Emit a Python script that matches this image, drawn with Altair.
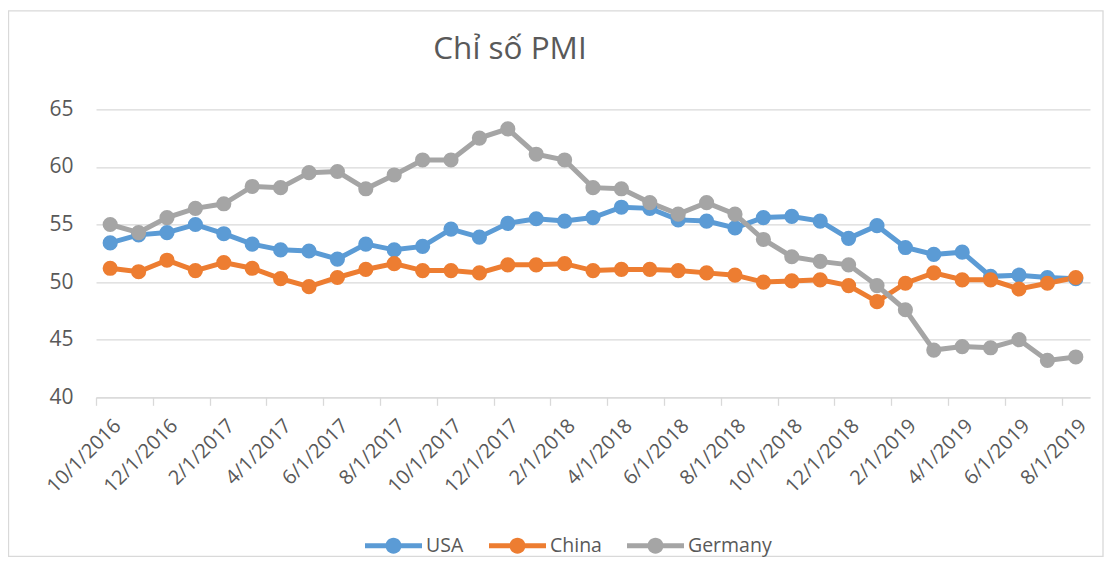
import altair as alt
import pandas as pd

dates = [
    "10/1/2016", "11/1/2016", "12/1/2016", "1/1/2017", "2/1/2017", "3/1/2017",
    "4/1/2017", "5/1/2017", "6/1/2017", "7/1/2017", "8/1/2017", "9/1/2017",
    "10/1/2017", "11/1/2017", "12/1/2017", "1/1/2018", "2/1/2018", "3/1/2018",
    "4/1/2018", "5/1/2018", "6/1/2018", "7/1/2018", "8/1/2018", "9/1/2018",
    "10/1/2018", "11/1/2018", "12/1/2018", "1/1/2019", "2/1/2019", "3/1/2019",
    "4/1/2019", "5/1/2019", "6/1/2019", "7/1/2019", "8/1/2019",
]
usa = [53.4, 54.1, 54.3, 55.0, 54.2, 53.3, 52.8, 52.7, 52.0, 53.3,
       52.8, 53.1, 54.6, 53.9, 55.1, 55.5, 55.3, 55.6, 56.5, 56.4,
       55.4, 55.3, 54.7, 55.6, 55.7, 55.3, 53.8, 54.9, 53.0, 52.4,
       52.6, 50.5, 50.6, 50.4, 50.3]
china = [51.2, 50.9, 51.9, 51.0, 51.7, 51.2, 50.3, 49.6, 50.4, 51.1,
         51.6, 51.0, 51.0, 50.8, 51.5, 51.5, 51.6, 51.0, 51.1, 51.1,
         51.0, 50.8, 50.6, 50.0, 50.1, 50.2, 49.7, 48.3, 49.9, 50.8,
         50.2, 50.2, 49.4, 49.9, 50.4]
germany = [55.0, 54.3, 55.6, 56.4, 56.8, 58.3, 58.2, 59.5, 59.6, 58.1,
           59.3, 60.6, 60.6, 62.5, 63.3, 61.1, 60.6, 58.2, 58.1, 56.9,
           55.9, 56.9, 55.9, 53.7, 52.2, 51.8, 51.5, 49.7, 47.6, 44.1,
           44.4, 44.3, 45.0, 43.2, 43.5]
series_names = ["USA", "China", "Germany"]
series_colors = ["#5B9BD5", "#ED7D31", "#A5A5A5"]
y_ticks = [40, 45, 50, 55, 60, 65]
title_text = "Chỉ số PMI"

FONT = "Open Sans"
TXT = "#595959"
GRID = "#d9d9d9"

rows = []
for s, (name, vals) in enumerate(zip(series_names, [usa, china, germany])):
    for i, (d, v) in enumerate(zip(dates, vals)):
        rows.append({"idx": i, "date": d, "series": name, "s": s, "value": v})
df = pd.DataFrame(rows)

n = len(dates)
label_js = "[" + ",".join("'" + d + "'" for d in dates) + "]"
x_vals = []
for i in range(0, n, 2):
    x_vals += [i - 0.5, i]

W, H = 994, 288

x_enc = alt.X(
    "idx:Q",
    scale=alt.Scale(domain=[-0.5, n - 0.5], nice=False, zero=False),
    axis=alt.Axis(
        values=x_vals, title=None, grid=False,
        labelExpr="datum.value % 2 === 0 ? " + label_js + "[datum.value] : ''",
        labelAngle=-45, labelAlign="right", labelBaseline="top",
        labelOverlap=False, labelFlush=False, labelPadding=10,
        labelFont=FONT, labelFontSize=20, labelColor=TXT,
        tickSize=8, tickColor=GRID, tickWidth=1.3,
        tickOpacity={"condition": {"test": "datum.value % 1 === 0", "value": 0}, "value": 1},
        domainColor=GRID, domainWidth=1.3,
    ),
)
y_enc = alt.Y(
    "value:Q",
    scale=alt.Scale(domain=[40, 65], nice=False, zero=False),
    axis=alt.Axis(
        values=y_ticks, title=None, domain=False, ticks=False,
        grid=True, gridColor=GRID, gridWidth=1.3,
        labelPadding=23, labelFont=FONT, labelFontSize=21, labelColor=TXT,
    ),
)
# line segment plus filled marker, both wound the same way so they union
sym = ("M-1,-0.09H1V0.09H-1Z "
       "M-0.28,0A0.28,0.28,0,1,1,0.28,0A0.28,0.28,0,1,1,-0.28,0Z")
color_scale = alt.Scale(domain=series_names, range=series_colors)
legend = alt.Legend(
    title=None, orient="none", legendX=269, legendY=408,
    direction="horizontal", symbolType=sym, symbolSize=3249,
    symbolStrokeWidth=0, symbolOpacity=1,
    labelFont=FONT, labelFontSize=19.5, labelColor=TXT,
    labelOffset=4, columnPadding=25, padding=0,
)

base = alt.Chart(df)
lines = base.mark_line(strokeWidth=5).encode(
    x=x_enc, y=y_enc,
    color=alt.Color("series:N", scale=color_scale, legend=legend),
    order="idx:Q",
)
points = base.mark_circle(size=230, opacity=1).encode(
    x=x_enc, y=y_enc,
    color=alt.Color("series:N", scale=color_scale, legend=legend),
)
one = alt.Data(values=[{"k": 1}])
frame = alt.Chart(one).mark_rect(fill="transparent", stroke=GRID, strokeWidth=1.3).encode(
    x=alt.value(-87.5), x2=alt.value(1007), y=alt.value(-98.5), y2=alt.value(447)
)
title = alt.Chart(one).mark_text(
    text=title_text, font=FONT, fontSize=31.5, color=TXT,
    align="center", baseline="alphabetic",
).encode(x=alt.value(414), y=alt.value(-50))

chart = alt.layer(frame, title, lines, points).properties(
    width=W, height=H,
    autosize=alt.AutoSizeParams(type="none"),
    padding={"left": 88, "top": 101.3, "right": 14, "bottom": 160},
).configure_view(stroke=None)

chart.save("out.html", embed_options={"renderer": "svg", "actions": False})
